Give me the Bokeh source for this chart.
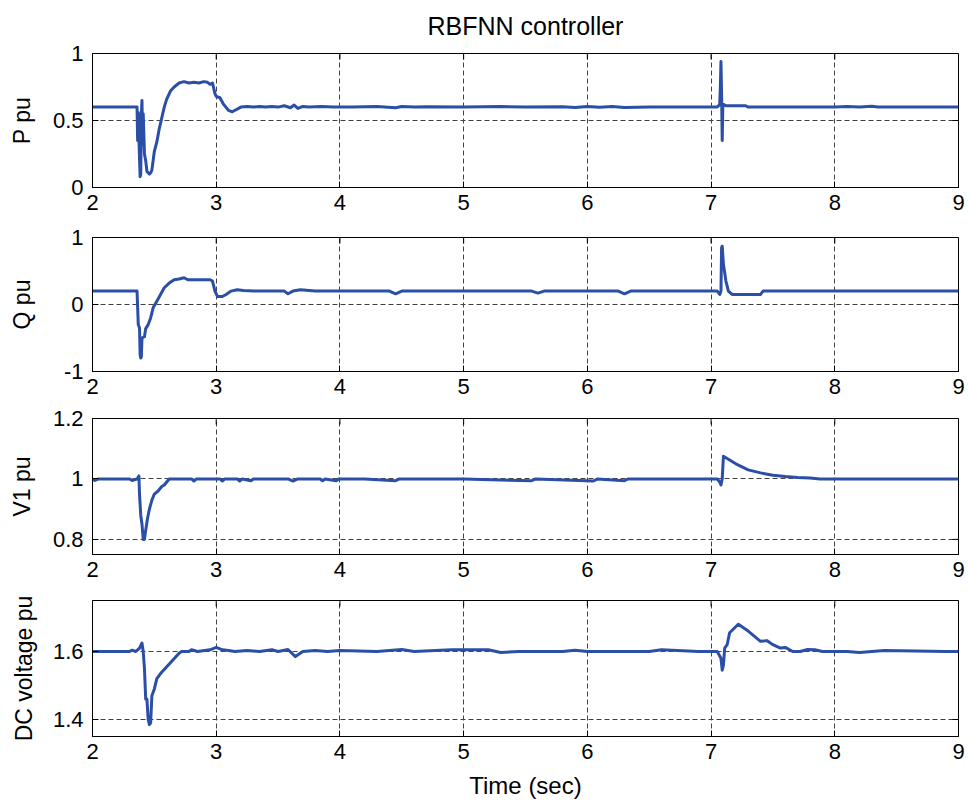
import math
from bokeh.plotting import figure
from bokeh.layouts import column
from bokeh.models import FixedTicker, CustomJSTickFormatter, Range1d
from bokeh.embed import file_html
from bokeh.resources import INLINE

title_text = "RBFNN controller"
x_label = "Time (sec)"
time_ticks = [2, 3, 4, 5, 6, 7, 8, 9]

p_points = [(2.00,0.60),(2.20,0.60),(2.35,0.60),(2.36,0.60),(2.365,0.35),(2.37,0.56),(2.375,0.36),(2.385,0.08),(2.39,0.10),(2.395,0.55),(2.40,0.65),(2.405,0.32),(2.41,0.55),(2.42,0.25),(2.43,0.20),(2.44,0.12),(2.46,0.10),(2.47,0.11),(2.48,0.13),(2.49,0.20),(2.50,0.27),(2.52,0.34),(2.54,0.44),(2.56,0.52),(2.58,0.60),(2.60,0.66),(2.63,0.72),(2.66,0.75),(2.70,0.78),(2.74,0.79),(2.78,0.78),(2.82,0.785),(2.86,0.78),(2.90,0.79),(2.93,0.785),(2.95,0.77),(2.97,0.78),(2.99,0.70),(3.00,0.68),(3.03,0.67),(3.06,0.62),(3.10,0.575),(3.13,0.565),(3.16,0.58),(3.20,0.60),(3.25,0.605),(3.30,0.60),(3.35,0.605),(3.40,0.60),(3.45,0.605),(3.50,0.60),(3.55,0.61),(3.60,0.595),(3.63,0.615),(3.66,0.59),(3.70,0.605),(3.75,0.60),(3.85,0.605),(3.95,0.60),(4.10,0.60),(4.30,0.605),(4.45,0.595),(4.50,0.605),(4.60,0.60),(4.70,0.603),(5.00,0.60),(5.30,0.605),(5.50,0.60),(5.80,0.603),(5.90,0.597),(6.00,0.605),(6.10,0.598),(6.20,0.604),(6.30,0.597),(6.50,0.60),(6.80,0.60),(7.00,0.60),(7.05,0.60),(7.07,0.62),(7.075,0.75),(7.08,0.94),(7.085,0.70),(7.09,0.35),(7.095,0.60),(7.10,0.62),(7.12,0.61),(7.20,0.61),(7.28,0.61),(7.30,0.60),(7.50,0.60),(8.00,0.60),(8.10,0.605),(8.20,0.60),(8.30,0.606),(8.35,0.60),(9.00,0.60)]

q_points = [(2.00,0.20),(2.36,0.20),(2.37,-0.30),(2.38,-0.35),(2.385,-0.75),(2.39,-0.80),(2.395,-0.78),(2.40,-0.50),(2.42,-0.48),(2.43,-0.36),(2.45,-0.30),(2.47,-0.20),(2.49,-0.05),(2.52,0.05),(2.55,0.15),(2.58,0.25),(2.62,0.32),(2.66,0.37),(2.70,0.38),(2.74,0.40),(2.77,0.37),(2.85,0.37),(2.95,0.37),(2.97,0.35),(2.99,0.20),(3.01,0.12),(3.05,0.12),(3.08,0.15),(3.12,0.20),(3.17,0.22),(3.22,0.21),(3.30,0.20),(3.55,0.20),(3.58,0.16),(3.62,0.20),(3.68,0.22),(3.80,0.20),(4.40,0.20),(4.45,0.16),(4.50,0.20),(5.55,0.20),(5.60,0.17),(5.65,0.20),(6.25,0.20),(6.30,0.16),(6.35,0.20),(7.05,0.20),(7.07,0.15),(7.08,0.20),(7.085,0.85),(7.09,0.87),(7.10,0.60),(7.12,0.35),(7.14,0.20),(7.17,0.15),(7.30,0.15),(7.40,0.15),(7.42,0.20),(9.00,0.20)]

v1_points = [(2.00,1.00),(2.02,0.995),(2.05,1.00),(2.30,1.00),(2.32,0.995),(2.36,1.00),(2.375,1.01),(2.38,0.95),(2.39,0.88),(2.40,0.85),(2.41,0.80),(2.42,0.80),(2.43,0.83),(2.445,0.87),(2.46,0.90),(2.48,0.93),(2.50,0.95),(2.53,0.96),(2.56,0.975),(2.58,0.98),(2.60,0.99),(2.62,1.00),(2.80,1.00),(2.82,0.993),(2.84,1.00),(3.03,1.00),(3.05,0.993),(3.07,1.00),(3.17,1.00),(3.19,0.993),(3.21,1.00),(3.28,0.994),(3.30,1.00),(3.58,1.00),(3.62,0.993),(3.66,1.00),(3.84,1.00),(3.86,0.994),(3.88,1.00),(3.97,0.994),(3.99,1.00),(4.20,1.00),(4.45,0.994),(4.48,1.00),(5.00,1.00),(5.55,0.994),(5.58,1.00),(6.05,0.993),(6.08,1.00),(6.30,0.994),(6.33,1.00),(7.05,1.00),(7.07,0.99),(7.08,0.98),(7.09,1.00),(7.10,1.075),(7.12,1.07),(7.16,1.06),(7.20,1.05),(7.25,1.04),(7.30,1.03),(7.35,1.025),(7.40,1.02),(7.50,1.012),(7.60,1.008),(7.70,1.005),(7.80,1.003),(7.88,1.00),(9.00,1.00)]

dc_points = [(2.00,1.60),(2.20,1.60),(2.30,1.60),(2.32,1.604),(2.35,1.60),(2.38,1.61),(2.40,1.625),(2.41,1.60),(2.42,1.55),(2.43,1.46),(2.44,1.46),(2.45,1.40),(2.46,1.385),(2.47,1.39),(2.48,1.47),(2.50,1.49),(2.52,1.52),(2.55,1.535),(2.60,1.555),(2.65,1.575),(2.70,1.595),(2.72,1.60),(2.78,1.60),(2.80,1.605),(2.85,1.60),(2.95,1.605),(3.00,1.612),(3.05,1.605),(3.10,1.603),(3.15,1.60),(3.25,1.603),(3.35,1.60),(3.45,1.605),(3.50,1.60),(3.58,1.606),(3.64,1.585),(3.70,1.60),(3.80,1.603),(3.90,1.60),(4.00,1.603),(4.30,1.60),(4.50,1.606),(4.60,1.60),(4.90,1.605),(5.20,1.605),(5.30,1.597),(5.45,1.60),(5.80,1.60),(5.90,1.604),(6.00,1.60),(6.50,1.60),(6.60,1.605),(6.90,1.60),(7.00,1.60),(7.05,1.60),(7.08,1.58),(7.09,1.545),(7.10,1.56),(7.11,1.61),(7.13,1.62),(7.15,1.655),(7.22,1.68),(7.30,1.66),(7.40,1.63),(7.45,1.632),(7.50,1.62),(7.56,1.61),(7.60,1.612),(7.66,1.60),(7.72,1.60),(7.78,1.606),(7.84,1.605),(7.90,1.60),(8.10,1.60),(8.20,1.597),(8.30,1.60),(8.40,1.603),(8.90,1.60),(9.00,1.60)]

y_labels = ["P pu", "Q pu", "V1 pu", "DC voltage pu"]
y_ranges = [(0, 1), (-1, 1), (0.75, 1.2), (1.35, 1.75)]
y_ticks = [[0, 0.5, 1], [-1, 0, 1], [0.8, 1, 1.2], [1.4, 1.6]]
series = [p_points, q_points, v1_points, dc_points]

LINE_COLOR = "#2b4ea6"
FONT = "Liberation Sans"
TICK_FS = "22px"
LABEL_FS = "23px"
FRAME_W = 866

# layout: (top border, frame height, bottom border, ylabel standoff)
layout = [(52, 134, 36, 15), (14, 134, 36, 26), (11, 136, 36, 15), (10, 136, 70, 13)]

fmt = CustomJSTickFormatter(code="return String(tick);")

figs = []
for i in range(4):
    top, fh, bot, stand = layout[i]
    y0, y1 = y_ranges[i]
    p = figure(frame_width=FRAME_W, frame_height=fh,
               x_range=Range1d(2, 9), y_range=Range1d(y0, y1),
               output_backend="svg", toolbar_location=None,
               min_border_left=92, min_border_right=8,
               min_border_top=top, min_border_bottom=bot,
               background_fill_color="white", border_fill_color="white")
    p.outline_line_color = "black"
    p.outline_line_width = 1
    p.outline_line_alpha = 1

    xax = p.below[0]
    yax = p.left[0]
    for ax in (xax, yax):
        ax.major_tick_in = 6
        ax.major_tick_out = 0
        ax.minor_tick_line_color = None
        ax.axis_line_color = "black"
        ax.major_tick_line_color = "black"
        ax.major_label_text_font = FONT
        ax.major_label_text_font_size = TICK_FS
        ax.major_label_text_color = "black"
        ax.formatter = fmt
    xax.ticker = FixedTicker(ticks=time_ticks)
    xax.major_label_standoff = 7
    yax.ticker = FixedTicker(ticks=y_ticks[i])
    yax.major_label_standoff = 9
    yax.axis_label = y_labels[i]
    yax.axis_label_text_font = FONT
    yax.axis_label_text_font_size = LABEL_FS
    yax.axis_label_text_font_style = "normal"
    yax.axis_label_text_color = "black"
    yax.axis_label_standoff = stand

    p.xgrid.ticker = FixedTicker(ticks=time_ticks)
    p.ygrid.ticker = FixedTicker(ticks=y_ticks[i])
    for g in (p.xgrid[0], p.ygrid[0]):
        g.grid_line_color = "#444444"
        g.grid_line_dash = "5 3"
        g.grid_line_width = 1

    # mirrored inward tick marks on the top and right edges (box style)
    p.ray(x=time_ticks, y=[y1] * len(time_ticks), length=6, length_units="screen",
          angle=-math.pi / 2, line_color="black", line_width=1)
    p.ray(x=[9] * len(y_ticks[i]), y=y_ticks[i], length=6, length_units="screen",
          angle=math.pi, line_color="black", line_width=1)

    pts = series[i]
    t = [a for a, b in pts]
    v = [b for a, b in pts]
    p.line(t, v, line_color=LINE_COLOR, line_width=3, line_join="round")

    if i == 0:
        p.title.text = title_text
        p.title.align = "center"
        p.title.vertical_align = "top"
        p.title.text_font = FONT
        p.title.text_font_size = "25px"
        p.title.text_font_style = "normal"
        p.title.text_color = "black"
        p.title.standoff = 23
    if i == 3:
        xax.axis_label = x_label
        xax.axis_label_text_font = FONT
        xax.axis_label_text_font_size = "24px"
        xax.axis_label_text_font_style = "normal"
        xax.axis_label_text_color = "black"
        xax.axis_label_standoff = 10
    figs.append(p)

layout_col = column(*figs, spacing=0)
open("out.html", "w").write(file_html(layout_col, INLINE))
